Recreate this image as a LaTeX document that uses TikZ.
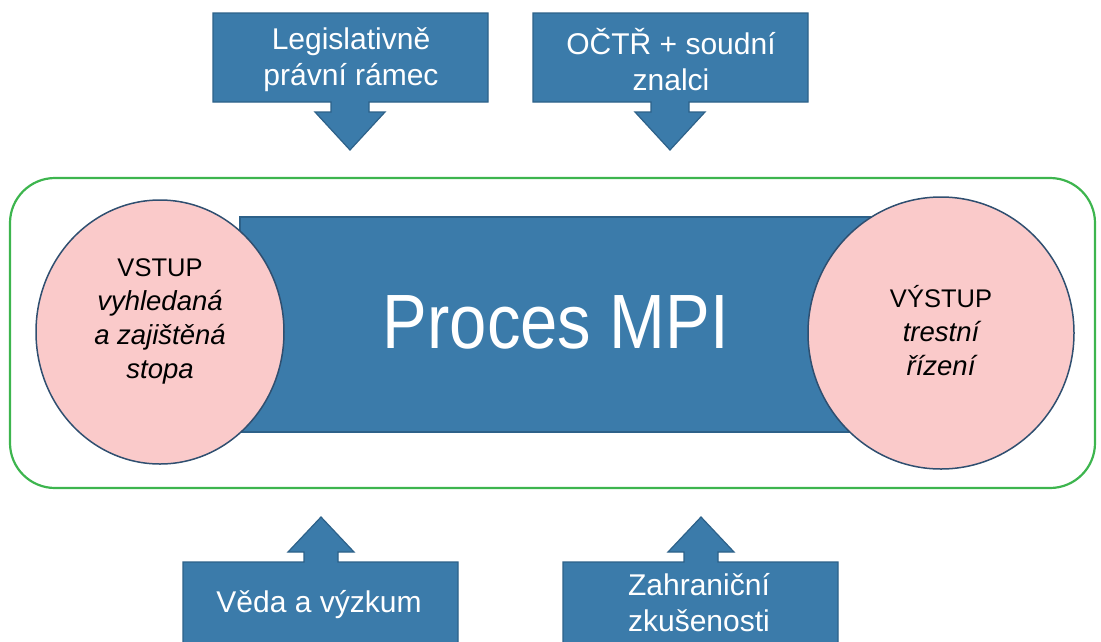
\documentclass[tikz,border=0pt]{standalone}
\usepackage{fontspec}
\usetikzlibrary{shapes.geometric}
\setmainfont{Liberation Sans}
\definecolor{boxblue}{HTML}{3B7BAA}
\definecolor{boxedge}{HTML}{2D6189}
\definecolor{pinkfill}{HTML}{FACACA}
\definecolor{ringedge}{HTML}{2F4F70}
\definecolor{greenedge}{HTML}{3DB54E}
\newcommand{\itl}[1]{{\fontsize{27.5}{34}\selectfont\itshape #1}}
\begin{document}
\begin{tikzpicture}[x=1pt,y=-1pt,
  callout/.style={fill=boxblue,draw=boxedge,line width=1.2pt,line join=miter},
  boxtext/.style={text=white,align=center,font=\fontsize{30}{36}\selectfont},
  ring/.style={ellipse,fill=pinkfill,draw=ringedge,line width=1.5pt,inner sep=0pt},
  ringtext/.style={align=center,font=\fontsize{25.5}{34}\selectfont}]
\useasboundingbox (0,0) rectangle (1101,641);
% outer frame
\node[draw=greenedge,line width=2.2pt,rounded corners=45pt,minimum width=1085pt,minimum height=310pt] (frame) at (552.5,333) {};
% central process bar
\node[fill=boxblue,draw=boxedge,line width=1.2pt,minimum width=630pt,minimum height=215pt] (proc) at (555,324.5) {};
\node[text=white,font=\fontsize{77}{80}\selectfont] (proctext) at (556,322) {\scalebox{0.87}[1]{Proces MPI}};
% circles
\node[ring,minimum width=248pt,minimum height=264pt] (in) at (160,332) {};
\node[ringtext] (intext) at (160,321) {VSTUP\\\itl{vyhledaná}\\\itl{a zajištěná}\\\itl{stopa}};
\node[ring,minimum width=266pt,minimum height=272pt] (out) at (941,333) {};
\node[ringtext] (outtext) at (941,331) {VÝSTUP\\\itl{trestní}\\\itl{řízení}};
% top callouts (down arrows)
\draw[callout] (213,13) -- (488,13) -- (488,102) -- (369,102) -- (369,112) -- (385,112) -- (350,150) -- (315,112) -- (331,112) -- (331,102) -- (213,102) -- cycle;
\node[boxtext] (leg) at (351,60) {Legislativně\\právní rámec};
\draw[callout] (533,13) -- (808,13) -- (808,102) -- (689,102) -- (689,112) -- (705,112) -- (670,150) -- (635,112) -- (651,112) -- (651,102) -- (533,102) -- cycle;
\node[boxtext] (octr) at (671,60) {OČTŘ + soudní\\znalci};
% bottom callouts (up arrows)
\draw[callout] (183,651) -- (183,562) -- (304,562) -- (304,552) -- (288,552) -- (321,517) -- (354,552) -- (338,552) -- (338,562) -- (458,562) -- (458,651) -- cycle;
\node[boxtext] (veda) at (319,605) {Věda a výzkum};
\draw[callout] (563,651) -- (563,562) -- (684,562) -- (684,552) -- (668,552) -- (701,517) -- (734,552) -- (718,552) -- (718,562) -- (838,562) -- (838,651) -- cycle;
\node[boxtext] (zahr) at (699,603) {Zahraniční\\zkušenosti};
\end{tikzpicture}
\end{document}
